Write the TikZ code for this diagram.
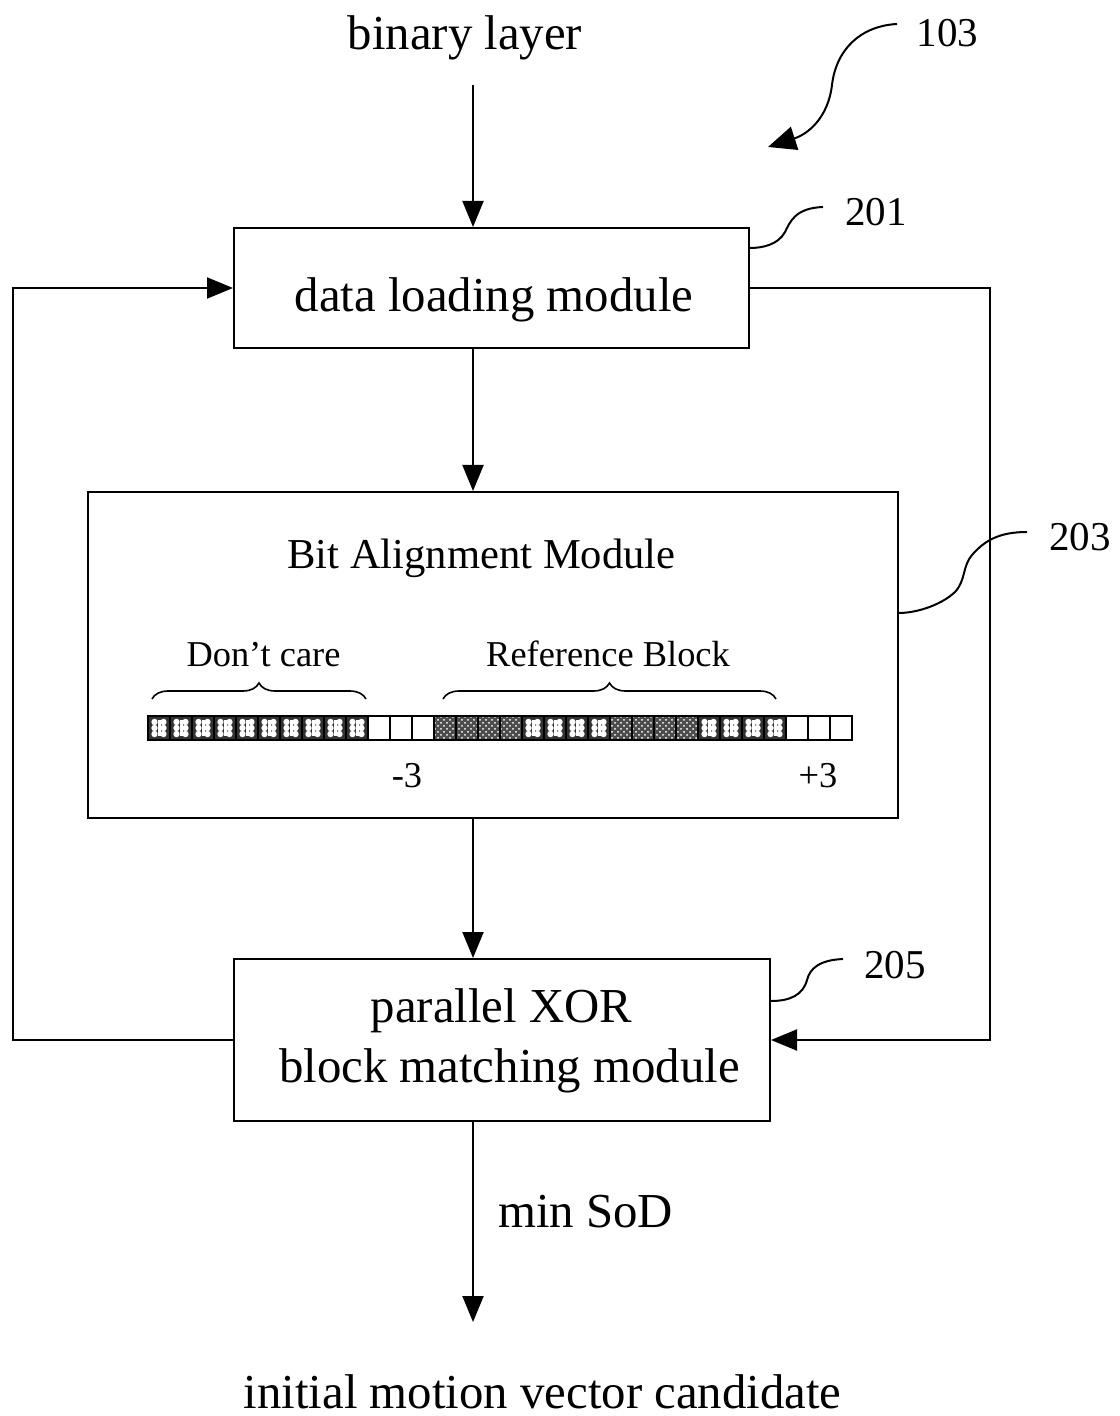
\documentclass[tikz,border=0pt]{standalone}
\usepackage{fontspec}
\setmainfont{Liberation Serif}
\usetikzlibrary{arrows.meta,decorations.pathreplacing,patterns}
\begin{document}
\begin{tikzpicture}[x=0.5pt,y=-0.5pt,
  line width=1pt,
  arr/.style={-{Triangle[length=13pt,width=10.5pt]}},
  boxnode/.style={draw,line width=1pt,inner sep=0pt,minimum width=#1},
  txt/.style={anchor=base,inner sep=0pt},
  bigf/.style={font=\fontsize{24.4}{29}\selectfont},
  midf/.style={font=\fontsize{21.3}{25}\selectfont},
  smallf/.style={font=\fontsize{18.2}{22}\selectfont},
  numf/.style={font=\fontsize{20.5}{24}\selectfont},
  leader/.style={line width=1pt}]
\useasboundingbox (0,0) rectangle (1119,1416);

% boxes
\node[boxnode=257.5pt,minimum height=60pt] (dl) at (491.5,288) {};
\node[boxnode=405pt,minimum height=163pt] (ba) at (493,655) {};
\node[boxnode=268pt,minimum height=81pt] (xor) at (502,1040) {};

% texts
\node[txt,bigf] (tin) at (465,50) {binary layer};
\node[txt,bigf] (tdl) at (494,312) {data loading module};
\node[txt,midf] (tba) at (481.5,568) {Bit Alignment Module};
\node[txt,smallf] (tdc) at (263.5,666) {Don’t care};
\node[txt,smallf] (trb) at (608,666) {Reference Block};
\node[txt,smallf] (tm3) at (407,787) {-3};
\node[txt,smallf] (tp3) at (818,787) {+3};
\node[txt,bigf] (tx1) at (501.5,1022) {parallel XOR};
\node[txt,bigf] (tx2) at (509.5,1082) {block matching module};
\node[txt,bigf] (tsod) at (585.5,1227) {min SoD};
\node[txt,bigf] (tout) at (542.5,1408) {initial motion vector candidate};
\node[txt,numf] (n103) at (947.5,47) {103};
\node[txt,numf] (n201) at (876,226) {201};
\node[txt,numf] (n203) at (1080,550) {203};
\node[txt,numf] (n205) at (895,978) {205};

% main flow
\coordinate (mid) at (473,0);
\coordinate (instart) at (473,85);
\coordinate (outend) at (473,1322);
\draw[arr] (instart) -- (instart |- dl.north);
\draw[arr] (dl.south -| mid) -- (ba.north -| mid);
\draw[arr] (ba.south -| mid) -- (xor.north -| mid);
\draw[arr] (xor.south -| mid) -- (outend);

% feedback loops
\coordinate (lx) at (13,0);
\coordinate (rx) at (990,0);
\draw[arr] (xor.west) -- (xor.west -| lx) -- (dl.west -| lx) -- (dl.west);
\draw[arr] (dl.east) -- (dl.east -| rx) -- (xor.east -| rx) -- (xor.east);

% leaders
\coordinate (a103) at (897,24);
\coordinate (e103) at (768,147);
\draw[-{Triangle[length=14pt,width=12pt]}] (a103) .. controls (860,26) and (836,50) .. (832,85)
  .. controls (828,118) and (808,134) .. (e103);
\coordinate (a201) at (823,207);
\draw[leader] (a201) .. controls (795,208) and (790,222) .. (785,232)
  .. controls (778,245) and (762,248) .. (dl.east |- 0,248);
\coordinate (a203) at (1027,532);
\draw[leader] (a203) .. controls (1000,532) and (985,540) .. (972,555)
  .. controls (962,567) and (966,580) .. (955,592)
  .. controls (940,606) and (915,613) .. (ba.east |- 0,613);
\coordinate (a205) at (843,959);
\draw[leader] (a205) .. controls (820,960) and (810,968) .. (807,980)
  .. controls (803,995) and (790,1001) .. (xor.east |- 0,1001);

% bit strip
\def\cw{22}
\foreach \i in {0,...,31}{
  \pgfmathsetmacro{\xa}{148+\cw*\i}
  \pgfmathsetmacro{\xb}{\xa+\cw}
  \pgfmathsetmacro{\xc}{\xa+\cw/2}
  \pgfmathtruncatemacro{\t}{ (\i<10) ? 1 : ((\i<13) ? 0 : ((\i<17) ? 2 : ((\i<21) ? 1 : ((\i<25) ? 2 : ((\i<29) ? 1 : 0)))))}
  \ifnum\t=1
    \fill[black!80] (\xa,716) rectangle (\xb,740);
    \foreach \dx/\dy in {-4.5/-6,4.5/-6,-4.5/0,4.5/0,-4.5/6,4.5/6}{
      \fill[white] (\xc+\dx,728+\dy) circle (3.2);
    }
    \fill[white] (\xc-1.5,716+4) rectangle (\xc+1.5,740-4);
  \fi
  \ifnum\t=2
    \fill[black!70] (\xa,716) rectangle (\xb,740);
    \fill[pattern=crosshatch dots,pattern color=white] (\xa,716) rectangle (\xb,740);
  \fi
  \draw[line width=0.6pt] (\xa,716) rectangle (\xb,740);
}
\draw[line width=1pt] (148,716) rectangle (852,740);

% braces
\draw[line width=0.8pt,decorate,decoration={brace,amplitude=8pt}] (152,699) -- (366,699);
\draw[line width=0.8pt,decorate,decoration={brace,amplitude=8pt}] (443,699) -- (776,699);
\end{tikzpicture}
\end{document}
